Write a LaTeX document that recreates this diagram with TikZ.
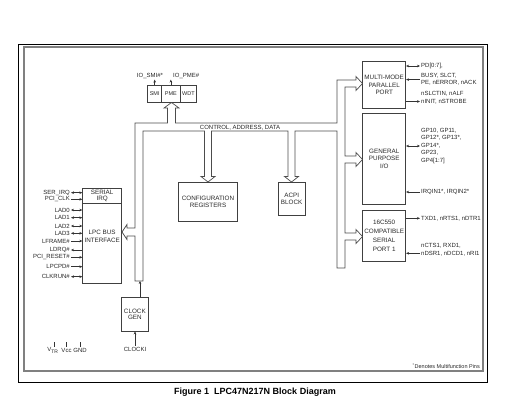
\documentclass[tikz,border=0pt]{standalone}
\usepackage{fontspec}
\setmainfont{Liberation Sans}
\usetikzlibrary{arrows.meta,calc}
\begin{document}
\begin{tikzpicture}[x=1pt,y=-1pt,
  >={Stealth[length=3pt,width=2.6pt]},
  blk/.style={draw=black!75, line width=0.7pt, align=center, inner sep=0pt, text=black!85,
              font=\fontsize{6.3}{7.3}\selectfont},
  pin/.style={inner sep=1pt, text=black!85, font=\fontsize{6}{7.5}\selectfont},
  sig/.style={draw=black!80, line width=0.5pt},
  busline/.style={draw=black!70, line width=0.7pt, line join=miter}
]
\useasboundingbox (0,0) rectangle (525,404);

% frames
\draw[black, line width=0.6pt] (18,44) rectangle (487,382);
\draw[black!50, line width=1.4pt] (24,47) rectangle (483,371);

% SMI / PME / WDT
\node[blk, minimum width=14pt, minimum height=17pt, font=\fontsize{5.5}{6}\selectfont] (smi) at (154.7,93.5) {SMI};
\node[blk, minimum width=18.3pt, minimum height=17pt, font=\fontsize{5.5}{6}\selectfont] (pme) at (170.85,93.5) {PME};
\node[blk, minimum width=16.7pt, minimum height=17pt, font=\fontsize{5.5}{6}\selectfont] (wdt) at (188.35,93.5) {WDT};
\node[pin] (iosmi) at (150,75.7) {IO\_SMI\#*};
\node[pin, anchor=west] (iopme) at (172,75.7) {IO\_PME\#};
\draw[sig,->] (smi.north) -- (smi.north |- iosmi.south);
\draw[sig,->] (pme.north) -- (pme.north |- iopme.south);

% right blocks
\node[blk, minimum width=43pt, minimum height=46.6pt] (par) at (384.2,85) {MULTI-MODE\\PARALLEL\\PORT};
\node[blk, minimum width=43pt, minimum height=91pt, font=\fontsize{6.3}{7.5}\selectfont] (gpio) at (384.2,158.8) {GENERAL\\PURPOSE\\I/O};
\node[blk, minimum width=43pt, minimum height=51.7pt, font=\fontsize{6.3}{9}\selectfont] (ser) at (384.2,235.85) {16C550\\COMPATIBLE\\SERIAL\\PORT 1};

% centre blocks
\node[blk, minimum width=59.4pt, minimum height=39.4pt] (cfg) at (208,202) {CONFIGURATION\\REGISTERS};
\node[blk, minimum width=26.7pt, minimum height=32.7pt, font=\fontsize{6.3}{7.6}\selectfont] (acpi) at (291.65,198.65) {ACPI\\BLOCK};

% left blocks
\node[blk, minimum width=39pt, minimum height=15pt, font=\fontsize{6.3}{6.8}\selectfont] (sirq) at (102.2,195.8) {SERIAL\\IRQ};
\node[blk, minimum width=39pt, minimum height=80pt] (lpc) at (102.2,243.3) {};
\node[inner sep=0pt, align=center, text=black!85, font=\fontsize{6.3}{8.7}\selectfont] (lpct) at (102.2,236.4) {LPC BUS\\INTERFACE};

% clock
\node[blk, minimum width=26.3pt, minimum height=33.3pt, font=\fontsize{6.3}{6.8}\selectfont] (clk) at (134.85,314.35) {CLOCK\\GEN};
\node[pin] (clki) at (135,349) {CLOCKI};
\draw[sig,->] (clki.north) -- (clki.north |- clk.south);
\coordinate (busbot) at (140,281);
\draw[sig,->] (clk.north -| busbot) -- (busbot);

% power pins
\node[pin] (vtr) at (53,350.5) {V\textsubscript{TR}};
\node[pin] (vcc) at (66.5,350) {Vcc};
\node[pin] (gnd) at (80,350) {GND};
\draw[sig] ([xshift=1.5pt]vtr.north |- vcc.north) -- ++(0,-5);
\draw[sig] (vcc.north) -- ++(0,-5);
\draw[sig] (gnd.north) -- ++(0,-5);

% bus
\draw[busline] (135,281) -- (135,236) -- (127,236) -- (127,239.5) -- (122,232) -- (127,224.5) -- (127,228) -- (135,228)
  -- (135,123) -- (167.5,123) -- (167.5,108) -- (164,108) -- (171.5,102.5) -- (179,108) -- (175.5,108) -- (175.5,123)
  -- (337,123) -- (337,80) -- (356,80) -- (356,76.5) -- (362.5,83.5) -- (356,90.5) -- (356,87) -- (345,87)
  -- (345,156) -- (356,156) -- (356,152.5) -- (362.5,159.5) -- (356,166.5) -- (356,163) -- (345,163)
  -- (345,233) -- (356,233) -- (356,229.5) -- (362.5,236.5) -- (356,243.5) -- (356,240) -- (345,240)
  -- (345,268) -- (337,268) -- (337,131)
  -- (295,131) -- (295,176.5) -- (298.5,176.5) -- (291.5,182) -- (284.5,176.5) -- (288,176.5) -- (288,131)
  -- (211.5,131) -- (211.5,176.5) -- (215,176.5) -- (208,182) -- (201,176.5) -- (204.5,176.5) -- (204.5,131)
  -- (143,131) -- (143,281) -- cycle;
\node[inner sep=0pt, text=black!85, font=\fontsize{6}{6}\selectfont] (busl) at (240,127.3) {CONTROL, ADDRESS, DATA};

% left pins
\foreach \n/\t/\y/\a in {p1/SER\_IRQ/192.7/<->, p2/PCI\_CLK/199.3/->, p3/LAD0/210/<->, p4/LAD1/217.7/<->,
    p5/LAD2/226/<->, p6/LAD3/233.3/<->, p7/LFRAME\#/241/->, p8/LDRQ\#/250/<-, p9/PCI\_RESET\#/257.3/->,
    p10/LPCPD\#/266.7/->, p11/CLKRUN\#/276.7/<->}{
  \node[pin, anchor=east] (\n) at (71,\y) {\t};
  \draw[sig,\a] (\n.east) -- (\n.east -| lpc.west);
}

% parallel port pins
\node[pin, anchor=west] (pd) at (420,66) {PD[0:7],};
\draw[sig,<->] (pd.west -| par.east) -- (pd.west);
\node[pin, anchor=west, align=left, font=\fontsize{6}{7.3}\selectfont] (busy) at (420,79.6) {BUSY, SLCT,\\PE, nERROR, nACK};
\draw[sig,<-] (busy.west -| par.east) -- (busy.west);
\node[pin, anchor=west] (nsl1) at (420,93.3) {nSLCTIN, nALF};
\node[pin, anchor=west] (nsl2) at (420,101.5) {nINIT, nSTROBE};
\draw[sig,->] (nsl2.west -| par.east) -- (nsl2.west);

% GPIO pins
\node[pin, anchor=west, align=left] (gp) at (420,146) {GP10, GP11,\\GP12*, GP13*,\\GP14*,\\GP23,\\GP4[1:7]};
\draw[sig,<->] (gp.west -| gpio.east) -- (gp.west);
\node[pin, anchor=west] (irq) at (420,192) {IRQIN1*, IRQIN2*};
\draw[sig,<-] (irq.west -| gpio.east) -- (irq.west);

% serial pins
\node[pin, anchor=west] (txd) at (420,218.3) {TXD1, nRTS1, nDTR1};
\draw[sig,->] (txd.west -| ser.east) -- (txd.west);
\node[pin, anchor=west] (ncts1) at (420,246) {nCTS1, RXD1,};
\node[pin, anchor=west] (ncts2) at (420,253.3) {nDSR1, nDCD1, nRI1};
\draw[sig,<-] (ncts2.west -| ser.east) -- (ncts2.west);

% notes
\node[anchor=east, inner sep=0pt, text=black!85, font=\fontsize{5.5}{6}\selectfont] (note) at (480,366.5) {\textsuperscript{*}Denotes Multifunction Pins};
\node[inner sep=0pt, font=\bfseries\fontsize{9}{11}\selectfont] (title) at (255,392.5) {Figure 1\ \ LPC47N217N Block Diagram};
\end{tikzpicture}
\end{document}
